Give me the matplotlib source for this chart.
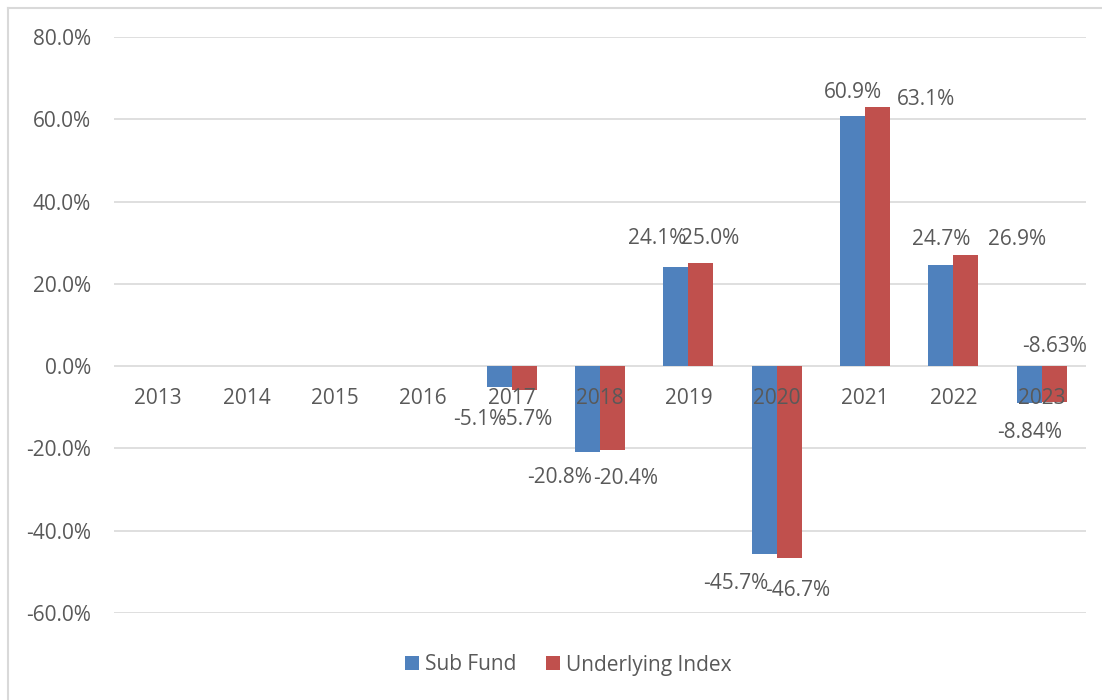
import numpy as np
import matplotlib
matplotlib.use("Agg")
import matplotlib.pyplot as plt
from matplotlib.lines import Line2D
from matplotlib.patches import Patch

# ---- data ----
years = ["2013", "2014", "2015", "2016", "2017", "2018", "2019", "2020", "2021", "2022", "2023"]
sub_fund = [np.nan, np.nan, np.nan, np.nan, -5.1, -20.8, 24.1, -45.7, 60.9, 24.7, -8.84]
underlying_index = [np.nan, np.nan, np.nan, np.nan, -5.7, -20.4, 25.0, -46.7, 63.1, 26.9, -8.63]
sub_fund_labels = ["", "", "", "", "-5.1%", "-20.8%", "24.1%", "-45.7%", "60.9%", "24.7%", "-8.84%"]
index_labels = ["", "", "", "", "-5.7%", "-20.4%", "25.0%", "-46.7%", "63.1%", "26.9%", "-8.63%"]
y_ticks = [-60, -40, -20, 0, 20, 40, 60, 80]
series_names = ["Sub Fund", "Underlying Index"]

# label placement offsets (pixels, x right / y up) relative to bar end
sf_off = [(0, 0)] * 4 + [(-19.5, -32), (-27.5, -26), (-18.5, 28.5), (-28, -29),
                         (0, 23.5), (0, 25.5), (0, -29.6)]
ix_off = [(0, 0)] * 4 + [(1.5, -29.5), (13, -28), (9.5, 25), (8.5, -32),
                         (48.5, 7), (51.5, 16), (0, 55.5)]

BLUE = "#4F81BD"
RED = "#C0504D"
TXT = "#595959"
GRID = "#D9D9D9"
FONT = "Open Sans"
FS = 15

plt.rcParams["font.family"] = [FONT, "DejaVu Sans"]

W, H = 1102, 700
fig = plt.figure(figsize=(W / 100, H / 100), dpi=100)
ax = fig.add_axes([114 / W, (H - 613) / H, (1086 - 114) / W, (613 - 37) / H])

x = np.arange(len(years))
bw = 0.283
ax.bar(x - bw / 2, sub_fund, bw, color=BLUE, zorder=3)
ax.bar(x + bw / 2, underlying_index, bw, color=RED, zorder=3)

for i in range(len(years)):
    for vals, labs, offs, sign in ((sub_fund, sub_fund_labels, sf_off, -1), (underlying_index, index_labels, ix_off, 1)):
        v = vals[i]
        if np.isnan(v):
            continue
        ax.annotate(labs[i], xy=(x[i] + sign * bw / 2, v), xytext=offs[i],
                    textcoords="offset pixels", ha="center", va="center",
                    fontsize=FS, color=TXT, zorder=5)

ax.set_xlim(-0.5, len(years) - 0.5)
ax.set_ylim(-60, 80)
ax.set_yticks(y_ticks)
ax.set_yticklabels([f"{t:.1f}%" for t in y_ticks])
ax.set_axisbelow(True)
ax.yaxis.grid(True, color=GRID, linewidth=1.2)

for s in ["left", "right", "top"]:
    ax.spines[s].set_visible(False)
ax.spines["bottom"].set_position(("data", 0))
ax.spines["bottom"].set_visible(False)

ax.set_xticks(x)
ax.set_xticklabels(years)
ax.tick_params(axis="x", length=0, pad=16, labelsize=FS, labelcolor=TXT)
ax.tick_params(axis="y", length=0, pad=16.5, labelsize=FS, labelcolor=TXT)
ax.xaxis.set_zorder(4)

handles = [Patch(facecolor=BLUE), Patch(facecolor=RED)]
fig.legend(handles, series_names, loc="center left",
           bbox_to_anchor=(405 / W, 1 - 665 / H), ncol=2, frameon=False,
           fontsize=FS, labelcolor=TXT, handlelength=0.67, handleheight=0.67,
           handletextpad=0.3, columnspacing=1.4, borderpad=0, borderaxespad=0)

# chart frame (left and top edges visible)
fig.add_artist(Line2D([7.5 / W, 7.5 / W], [0, 1 - 7.5 / H], transform=fig.transFigure, color=GRID, linewidth=1.5))
fig.add_artist(Line2D([7.5 / W, 1], [1 - 7.5 / H, 1 - 7.5 / H], transform=fig.transFigure, color=GRID, linewidth=1.5))

fig.savefig("out.png", dpi=100)
